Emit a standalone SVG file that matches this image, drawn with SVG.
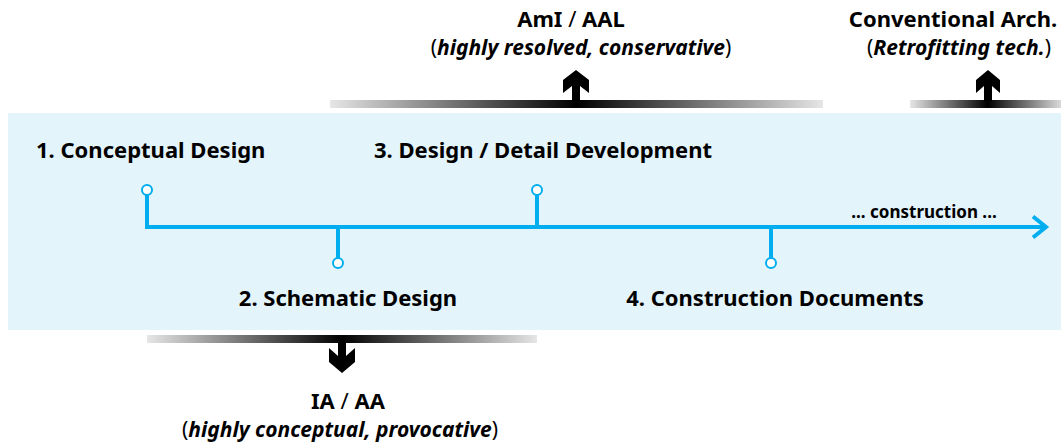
<svg xmlns="http://www.w3.org/2000/svg" width="1061" height="447" viewBox="0 0 1061 447">
<style>
text{font-family:"Noto Sans","Open Sans","DejaVu Sans",sans-serif;fill:#000}
.h{font-size:22px;font-weight:bold}
.p{font-size:21px;font-weight:bold}
.s{font-size:17px;font-weight:bold}
.r{font-weight:normal}
.i{font-style:italic;font-weight:bold}
.stem{stroke:#00aeef;stroke-width:4;fill:none}
.dot{fill:#fff;stroke:#00aeef;stroke-width:2}
</style>
<defs>
<linearGradient id="bar" x1="0" x2="1" y1="0" y2="0">
<stop offset="0" stop-color="#e6e6e6"/>
<stop offset="0.5" stop-color="#000"/>
<stop offset="1" stop-color="#e6e6e6"/>
</linearGradient>
</defs>
<rect id="band" x="8" y="113" width="1053" height="217" fill="#e3f4fb"/>
<g id="connectors">
<path class="stem" d="M147 194V227H1044"/>
<path class="stem" d="M1033 216.5L1046 227L1033 237.5"/>
<path class="stem" d="M537 195V227"/>
<path class="stem" d="M338 227V258"/>
<path class="stem" d="M771 227V258"/>
</g>
<g id="n1"><circle class="dot" cx="147" cy="190" r="5"/><text class="h" x="36" y="158">1. Conceptual Design</text></g>
<g id="n2"><circle class="dot" cx="338" cy="263" r="5"/><text class="h" x="348" y="306" text-anchor="middle">2. Schematic Design</text></g>
<g id="n3"><circle class="dot" cx="537" cy="190" r="5"/><text class="h" x="543" y="158" text-anchor="middle">3. Design / Detail Development</text></g>
<g id="n4"><circle class="dot" cx="771" cy="263" r="5"/><text class="h" x="775" y="306" text-anchor="middle">4. Construction Documents</text></g>
<text class="s" x="924" y="218" text-anchor="middle">... construction ...</text>
<g id="ami">
<rect x="330" y="100" width="493" height="8" fill="url(#bar)"/>
<path d="M576 70L589 80V93L580 86V101H572V86L563 93V80Z" fill="#000"/>
<text class="h" x="571" y="27" text-anchor="middle">AmI<tspan class="r"> / </tspan>AAL</text>
<text class="p" x="581" y="55" text-anchor="middle"><tspan class="r">(</tspan><tspan class="i">highly resolved, conservative</tspan><tspan class="r">)</tspan></text>
</g>
<g id="conv">
<rect x="910" y="100" width="155" height="8" fill="url(#bar)"/>
<path d="M988 70L1000 80V93L992 86V101H984V86L976 93V80Z" fill="#000"/>
<text class="h" x="953" y="27" text-anchor="middle">Conventional Arch.</text>
<text class="p" x="959" y="55" text-anchor="middle"><tspan class="r">(</tspan><tspan class="i">Retrofitting tech.</tspan><tspan class="r">)</tspan></text>
</g>
<g id="ia">
<rect x="147" y="335" width="390" height="8" fill="url(#bar)"/>
<path d="M338 342H346V356L355 348V362L342 373L329 362V348L338 356Z" fill="#000"/>
<text class="h" x="348" y="409" text-anchor="middle">IA<tspan class="r"> / </tspan>AA</text>
<text class="p" x="340" y="437" text-anchor="middle"><tspan class="r">(</tspan><tspan class="i">highly conceptual, provocative</tspan><tspan class="r">)</tspan></text>
</g>
</svg>
